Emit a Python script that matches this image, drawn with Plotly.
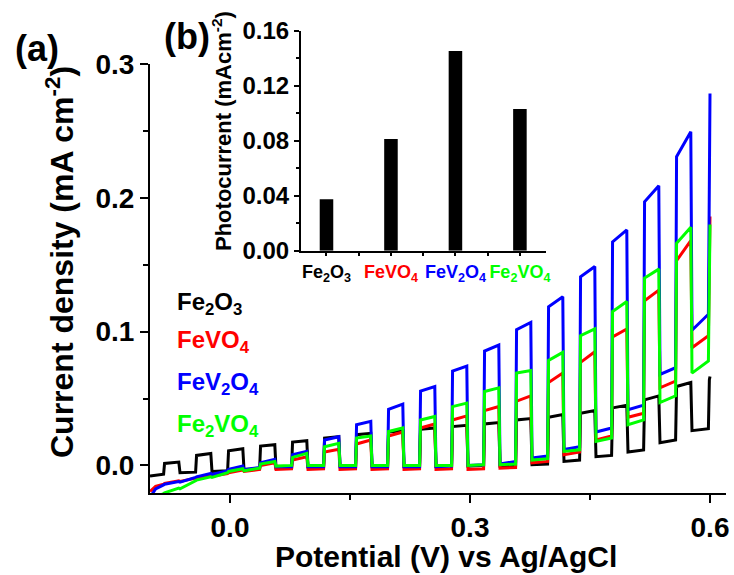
import plotly.graph_objects as go

# ---------------- main panel data (potential V vs Ag/AgCl, current mA cm^-2) ----------------
light_on = [-0.083, -0.043, -0.003, 0.037, 0.077, 0.117, 0.157, 0.197, 0.237, 0.277,
            0.317, 0.357, 0.397, 0.437, 0.477, 0.517, 0.557, 0.598]
light_off = [-0.064, -0.024, 0.016, 0.056, 0.096, 0.136, 0.176, 0.216, 0.256, 0.296,
             0.336, 0.376, 0.416, 0.456, 0.496, 0.536, 0.576, 0.600]

fe2o3_start_x = [-0.100, -0.092]
fe2o3_start_y = [-0.0080, -0.0072]
fe2o3_dark_end = [-0.0065, -0.005, -0.004, -0.0025, -0.0015, -0.0005, 0.0, 0.0, 0.0, 0.0,
                  0.0, 0.0, 0.001, 0.004, 0.0075, 0.0115, 0.019, 0.0275]
fe2o3_light_start = [0.0015, 0.0075, 0.011, 0.0145, 0.0175, 0.0205, 0.023, 0.025, 0.027, 0.029,
                     0.031, 0.034, 0.036, 0.039, 0.043, 0.049, 0.059, 0.064]
fe2o3_light_end = [0.0025, 0.009, 0.0125, 0.0155, 0.0185, 0.0215, 0.024, 0.026, 0.028, 0.030,
                   0.032, 0.035, 0.038, 0.041, 0.045, 0.052, 0.062, 0.0665]
fe2o3_dark_start = [-0.0055, -0.0045, -0.003, -0.002, -0.001, 0.0, 0.0, -0.0005, -0.0005, -0.0005,
                    -0.0005, 0.0005, 0.003, 0.0065, 0.010, 0.017, 0.026]

fevo4_start_x = [-0.100, -0.093]
fevo4_start_y = [-0.0194, -0.0157]
fevo4_dark_end = [-0.0140, -0.0095, -0.006, -0.003, -0.0025, -0.0025, -0.0025, -0.0025, -0.0025, -0.0025,
                  -0.0025, -0.0015, 0.003, 0.010, 0.022, 0.039, 0.063, 0.097]
fevo4_light_start = [-0.0135, -0.009, -0.0055, 0.0, 0.004, 0.010, 0.016, 0.022, 0.028, 0.034,
                     0.041, 0.048, 0.062, 0.077, 0.096, 0.123, 0.153, 0.186]
fevo4_light_end = [-0.0115, -0.0075, -0.0035, 0.002, 0.0065, 0.012, 0.019, 0.025, 0.031, 0.037,
                   0.044, 0.052, 0.069, 0.085, 0.102, 0.131, 0.168, 0.186]
fevo4_dark_start = [-0.012, -0.008, -0.0045, -0.003, -0.003, -0.003, -0.003, -0.003, -0.003, -0.003,
                    -0.002, 0.002, 0.008, 0.019, 0.036, 0.058, 0.088]

fev2o4_start_x = [-0.100, -0.093]
fev2o4_start_y = [-0.0240, -0.0175]
fev2o4_dark_end = [-0.0145, -0.009, -0.004, -0.0015, -0.001, -0.001, -0.001, -0.001, -0.001, -0.0005,
                   0.0005, 0.003, 0.007, 0.014, 0.028, 0.045, 0.073, 0.113]
fev2o4_light_start = [-0.014, -0.0085, -0.003, 0.002, 0.008, 0.019, 0.0304, 0.042, 0.0555, 0.0705,
                      0.0855, 0.1015, 0.1185, 0.141, 0.167, 0.197, 0.2307, 0.278]
fev2o4_light_end = [-0.012, -0.006, -0.0005, 0.0045, 0.0105, 0.0215, 0.033, 0.0458, 0.059, 0.0742,
                    0.090, 0.1068, 0.126, 0.1487, 0.176, 0.209, 0.2494, 0.278]
fev2o4_dark_start = [-0.0125, -0.0068, -0.003, -0.001, -0.001, -0.001, -0.001, -0.001, -0.001, 0.0,
                     0.001, 0.0055, 0.012, 0.025, 0.0416, 0.068, 0.101]

fe2vo4_start_x = [-0.100, -0.090]
fe2vo4_start_y = [-0.0270, -0.0230]
fe2vo4_dark_end = [-0.021, -0.0115, -0.0055, -0.002, 0.0, 0.0, 0.0, 0.0, 0.0, 0.0,
                   0.0005, 0.001, 0.005, 0.0117, 0.0205, 0.034, 0.052, 0.078]
fe2vo4_light_start = [-0.0205, -0.011, -0.0045, 0.001, 0.006, 0.014, 0.0205, 0.0254, 0.034, 0.044,
                      0.0553, 0.069, 0.0785, 0.097, 0.115, 0.140, 0.166, 0.180]
fe2vo4_light_end = [-0.017, -0.0085, -0.0025, 0.003, 0.009, 0.0165, 0.022, 0.028, 0.0366, 0.0466,
                    0.058, 0.071, 0.0845, 0.102, 0.1225, 0.1467, 0.178, 0.180]
fe2vo4_dark_start = [-0.0175, -0.009, -0.004, -0.0005, 0.0, 0.0, 0.0, 0.0, 0.0, 0.0,
                     0.0005, 0.004, 0.0105, 0.018, 0.0304, 0.047, 0.069]

# ---------------- inset data ----------------
inset_categories = ["Fe<sub>2</sub>O<sub>3</sub>", "FeVO<sub>4</sub>",
                    "FeV<sub>2</sub>O<sub>4</sub>", "Fe<sub>2</sub>VO<sub>4</sub>"]
inset_photocurrent = [0.0374, 0.0812, 0.1452, 0.1030]

BLACK, RED, BLUE, GREEN = "#000000", "#ff0000", "#0000ff", "#00ff00"
FONT = "Liberation Sans"
RISE, FALL = 0.0012, 0.0015


def chopped(sx, sy, d_end, l_start, l_end, d_start):
    xs, ys = list(sx), list(sy)
    n = len(light_on)
    for k in range(n):
        xs += [light_on[k], light_on[k] + RISE]
        ys += [d_end[k], l_start[k]]
        xs.append(light_off[k])
        ys.append(l_end[k])
        if k < len(d_start):
            xs.append(light_off[k] + FALL)
            ys.append(d_start[k])
    return xs, ys


series = [
    ("Fe2O3", BLACK, fe2o3_start_x, fe2o3_start_y, fe2o3_dark_end, fe2o3_light_start, fe2o3_light_end, fe2o3_dark_start),
    ("FeVO4", RED, fevo4_start_x, fevo4_start_y, fevo4_dark_end, fevo4_light_start, fevo4_light_end, fevo4_dark_start),
    ("FeV2O4", BLUE, fev2o4_start_x, fev2o4_start_y, fev2o4_dark_end, fev2o4_light_start, fev2o4_light_end, fev2o4_dark_start),
    ("Fe2VO4", GREEN, fe2vo4_start_x, fe2vo4_start_y, fe2vo4_dark_end, fe2vo4_light_start, fe2vo4_light_end, fe2vo4_dark_start),
]

fig = go.Figure()
for name, col, sx, sy, de, ls, le, ds in series:
    x, y = chopped(sx, sy, de, ls, le, ds)
    fig.add_trace(go.Scatter(x=x, y=y, mode="lines", name=name,
                             line=dict(color=col, width=3), showlegend=False,
                             xaxis="x", yaxis="y"))

fig.add_trace(go.Bar(x=[0, 1, 2, 3], y=inset_photocurrent, width=0.21,
                     marker=dict(color=BLACK, line=dict(width=0)),
                     showlegend=False, xaxis="x2", yaxis="y2"))

W, H = 734, 575
ML, MR, MT, MB = 150, 8, 20, 82
PW, PH = W - ML - MR, H - MT - MB


def px(X):
    return (X - ML) / PW


def py(Y):
    return (H - MB - Y) / PH


tick_font = dict(family=FONT, size=28, color=BLACK, weight="bold")
inset_font = dict(family=FONT, size=24, color=BLACK, weight="bold")

cat_colors = [BLACK, RED, BLUE, GREEN]
inset_ticktext = [f"<span style='color:{c}'>{t}</span>" for c, t in zip(cat_colors, inset_categories)]

fig.update_layout(
    width=W, height=H,
    margin=dict(l=ML, r=MR, t=MT, b=MB, autoexpand=False),
    paper_bgcolor="white", plot_bgcolor="rgba(0,0,0,0)",
    xaxis=dict(domain=[0, 1], range=[-0.1, 0.62], showline=True, linecolor=BLACK, linewidth=2,
               ticks="outside", ticklen=8, tickwidth=2, tickcolor=BLACK, tick0=0, dtick=0.3,
               tickformat=".1f", tickfont=tick_font, showgrid=False, zeroline=False,
               minor=dict(ticks="outside", dtick=0.15, tick0=0, ticklen=5, tickwidth=2, tickcolor=BLACK)),
    yaxis=dict(domain=[0, py(64)], range=[-0.0206, 0.3], showline=True, linecolor=BLACK, linewidth=2,
               ticks="outside", ticklen=8, tickwidth=2, tickcolor=BLACK, tick0=0, dtick=0.1,
               tickformat=".1f", tickfont=tick_font, showgrid=False, zeroline=False,
               minor=dict(ticks="outside", dtick=0.05, tick0=0, ticklen=5, tickwidth=2, tickcolor=BLACK)),
    xaxis2=dict(domain=[px(300.7), px(545.7)], range=[-0.4, 3.4], anchor="y2",
                showline=True, linecolor=BLACK, linewidth=1.5,
                tickmode="array", tickvals=[0, 1, 2, 3], ticktext=inset_ticktext, tickangle=0,
                ticks="outside", ticklen=4, tickwidth=1.5, tickcolor=BLACK,
                tickfont=dict(family=FONT, size=18, weight="bold"), showgrid=False, zeroline=False,
                minor=dict(ticks="outside", dtick=0.5, tick0=0, ticklen=4, tickwidth=1.5, tickcolor=BLACK)),
    yaxis2=dict(domain=[py(250.7), py(30.7)], range=[0, 0.16], anchor="x2",
                showline=True, linecolor=BLACK, linewidth=1.5,
                ticks="outside", ticklen=5, tickwidth=1.5, tickcolor=BLACK, tick0=0, dtick=0.04,
                tickformat=".2f", tickfont=inset_font, showgrid=False, zeroline=False,
                minor=dict(ticks="outside", dtick=0.02, tick0=0, ticklen=3, tickwidth=1.5, tickcolor=BLACK)),
)

ann = []


def add_text(text, X, Y, size, color=BLACK, angle=0, xanchor="center", yanchor="middle"):
    ann.append(dict(text=text, x=px(X), y=py(Y), xref="paper", yref="paper",
                    showarrow=False, xanchor=xanchor, yanchor=yanchor, textangle=angle,
                    font=dict(family=FONT, size=size, color=color, weight="bold")))


add_text("Potential (V) vs Ag/AgCl", 446, 575, 30, yanchor="bottom")
add_text("Current density (mA cm<sup>-2</sup>)", 60, 262, 32, angle=-90)
add_text("Photocurrent (mAcm<sup>-2</sup>)", 222, 131, 22, angle=-90)
add_text("(a)", 37, 48, 36)
add_text("(b)", 187, 37, 36)

legend_y = [303, 341, 383, 425]
for t, c, Y in zip(inset_categories, cat_colors, legend_y):
    add_text(t, 175, Y, 24, color=c, xanchor="left")

fig.update_layout(annotations=ann)
fig.write_html("out.html")
